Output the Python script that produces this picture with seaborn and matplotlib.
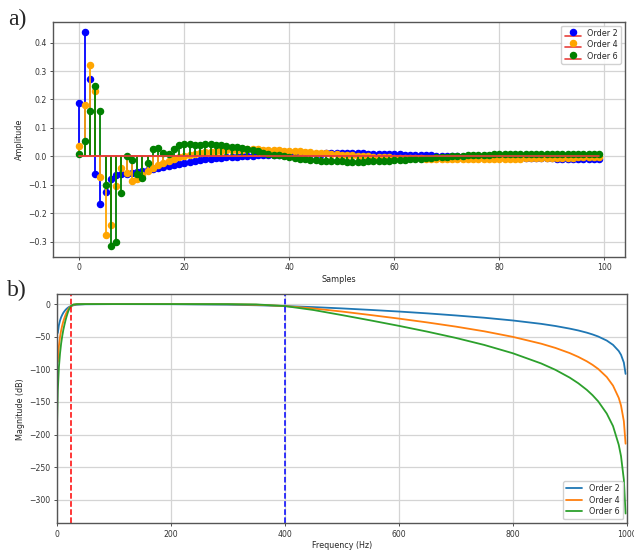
import numpy as np
import pandas as pd
import matplotlib
matplotlib.use("Agg")
import matplotlib.pyplot as plt
import seaborn as sns

# ---------------- data ----------------
samples = list(range(100))

order2_impulse = [
    0.188, 0.436, 0.272, -0.062, -0.167, -0.126, -0.081, -0.067, -0.064, -0.062,
    -0.059, -0.056, -0.053, -0.049, -0.045, -0.041, -0.037, -0.033, -0.030, -0.027,
    -0.024, -0.021, -0.017, -0.014, -0.011, -0.009, -0.007, -0.005, -0.003, -0.002,
    -0.001, 0.000, 0.001, 0.002, 0.003, 0.004, 0.005, 0.005, 0.006, 0.006,
    0.007, 0.007, 0.008, 0.008, 0.009, 0.009, 0.009, 0.010, 0.010, 0.010,
    0.010, 0.010, 0.010, 0.010, 0.010, 0.009, 0.009, 0.009, 0.008, 0.008,
    0.007, 0.007, 0.006, 0.006, 0.005, 0.004, 0.004, 0.003, 0.002, 0.002,
    0.001, 0.000, 0.000, -0.001, -0.001, -0.002, -0.002, -0.003, -0.003, -0.004,
    -0.004, -0.005, -0.005, -0.005, -0.006, -0.006, -0.006, -0.007, -0.007, -0.007,
    -0.007, -0.008, -0.008, -0.008, -0.008, -0.008, -0.008, -0.008, -0.008, -0.008,
]

order4_impulse = [
    0.036, 0.180, 0.321, 0.229, -0.073, -0.276, -0.241, -0.106, -0.041, -0.060,
    -0.088, -0.080, -0.066, -0.052, -0.040, -0.030, -0.022, -0.015, -0.009, -0.004,
    0.000, 0.004, 0.008, 0.011, 0.014, 0.016, 0.018, 0.020, 0.021, 0.022,
    0.023, 0.023, 0.024, 0.024, 0.024, 0.023, 0.023, 0.022, 0.021, 0.020,
    0.019, 0.018, 0.017, 0.015, 0.014, 0.013, 0.011, 0.010, 0.008, 0.007,
    0.006, 0.004, 0.003, 0.002, 0.001, 0.000, -0.001, -0.002, -0.003, -0.004,
    -0.005, -0.005, -0.006, -0.006, -0.007, -0.007, -0.008, -0.008, -0.008, -0.008,
    -0.009, -0.009, -0.009, -0.009, -0.009, -0.009, -0.009, -0.009, -0.009, -0.009,
    -0.009, -0.008, -0.008, -0.008, -0.008, -0.007, -0.007, -0.007, -0.006, -0.006,
    -0.006, -0.005, -0.005, -0.005, -0.005, -0.004, -0.004, -0.004, -0.004, -0.004,
]

order6_impulse = [
    0.007, 0.054, 0.159, 0.247, 0.159, -0.102, -0.317, -0.302, -0.129, 0.000,
    -0.012, -0.064, -0.078, -0.024, 0.024, 0.029, 0.011, 0.008, 0.027, 0.038,
    0.044, 0.043, 0.040, 0.038, 0.042, 0.044, 0.041, 0.039, 0.036, 0.034,
    0.031, 0.028, 0.025, 0.021, 0.017, 0.013, 0.009, 0.006, 0.003, 0.000,
    -0.003, -0.006, -0.008, -0.010, -0.012, -0.014, -0.015, -0.016, -0.017, -0.018,
    -0.018, -0.019, -0.019, -0.019, -0.019, -0.018, -0.018, -0.017, -0.016, -0.015,
    -0.014, -0.013, -0.012, -0.010, -0.009, -0.008, -0.006, -0.005, -0.004, -0.002,
    -0.001, 0.000, 0.001, 0.002, 0.003, 0.004, 0.005, 0.005, 0.006, 0.007,
    0.007, 0.007, 0.008, 0.008, 0.008, 0.008, 0.008, 0.008, 0.008, 0.008,
    0.008, 0.007, 0.007, 0.007, 0.007, 0.007, 0.007, 0.007, 0.007, 0.007,
]

freq_hz = [0, 1.95, 3.9, 5.86, 7.8, 9.77, 11.7, 13.7, 15.6, 17.6, 19.5, 21.5,
           25, 29.3, 35, 50, 100, 200, 300, 350, 400, 450, 500, 550, 600, 650,
           700, 750, 800, 850, 875, 900, 915, 930, 940, 950, 965, 976, 986,
           990, 995, 998]

order2_db = [None, -44.3, -32.2, -25.2, -20.2, -16.4, -13.3, -10.9, -8.8, -7.05,
             -5.7, -4.5, -3.0, -1.85, -1.0, -0.26, 0, -0.17, -0.94, -1.78,
             -3.0, -4.6, -6.6, -8.9, -11.4, -14.2, -17.4, -20.9, -25.1, -30.3,
             -33.6, -37.6, -40.4, -43.8, -46.5, -49.7, -55.9, -62.5, -71.9,
             -77.7, -89.7, -107]
order4_db = [None, -88.6, -64.5, -50.4, -40.4, -32.7, -26.3, -21.0, -16.4, -12.4,
             -9.1, -6.4, -3.0, -1.1, -0.3, -0.02, 0, 0, -0.25, -1.0,
             -3.0, -6.7, -11.4, -16.7, -22.2, -28.1, -34.5, -41.7, -50.2, -60.7,
             -67.2, -75.1, -80.9, -87.7, -93.1, -99.4, -111.8, -125.0, -143.7,
             -155.4, -179.5, -214]
order6_db = [-210, -132.9, -96.7, -75.7, -60.6, -49.0, -39.4, -31.5, -24.5, -18.4,
             -13.1, -8.5, -3.0, -0.6, -0.08, 0, 0, 0, -0.06, -0.53,
             -3.0, -9.0, -16.8, -24.9, -33.3, -42.2, -51.8, -62.6, -75.3, -91.0,
             -100.8, -112.7, -121.3, -131.5, -139.6, -149.1, -167.8, -187.0, -215.6,
             -233.0, -269.2, -321]

order_labels = ["Order 2", "Order 4", "Order 6"]
stem_colors = ["blue", "orange", "green"]
line_colors = ["#1f77b4", "#ff7f0e", "#2ca02c"]
low_cut = 25
high_cut = 400

# ---------------- style ----------------
sns.set_theme(style="whitegrid")
plt.rcParams.update({
    "font.family": ["DejaVu Sans"],
    "axes.edgecolor": "#555555",
    "axes.linewidth": 1.0,
    "grid.color": "#d4d4d4",
    "grid.linewidth": 0.9,
    "xtick.labelsize": 5.6,
    "ytick.labelsize": 5.6,
    "axes.labelsize": 5.8,
    "legend.fontsize": 5.8,
    "xtick.bottom": True,
    "ytick.left": True,
    "xtick.major.size": 2.5,
    "ytick.major.size": 2.5,
    "xtick.major.width": 0.6,
    "ytick.major.width": 0.6,
    "xtick.color": "#333333",
    "ytick.color": "#333333",
    "xtick.major.pad": 2,
    "ytick.major.pad": 2,
})

fig = plt.figure(figsize=(6.34, 5.53), dpi=100)
ax1 = fig.add_axes([0.084, 0.535, 0.902, 0.426])
ax2 = fig.add_axes([0.0894, 0.0537, 0.8991, 0.4147])

# ---------------- panel a: impulse responses ----------------
impulses = [order2_impulse, order4_impulse, order6_impulse]
for vals, lab, col in zip(impulses, order_labels, stem_colors):
    cont = ax1.stem(samples, vals, linefmt="-", markerfmt="o", basefmt="r-", label=lab)
    cont.markerline.set_color(col)
    cont.markerline.set_markersize(4.4)
    cont.stemlines.set_color(col)
    cont.stemlines.set_linewidth(1.3)
    cont.baseline.set_color("#e8413c")
    cont.baseline.set_linewidth(1.2)

ax1.set_xlim(-4.95, 103.95)
ax1.set_ylim(-0.355, 0.474)
ax1.set_xticks([0, 20, 40, 60, 80, 100])
ax1.set_yticks([-0.3, -0.2, -0.1, 0.0, 0.1, 0.2, 0.3, 0.4])
ax1.set_xlabel("Samples", labelpad=2)
ax1.set_ylabel("Amplitude", labelpad=3)
ax1.legend(loc="upper right", frameon=True, framealpha=0.9, edgecolor="#cccccc",
           borderpad=0.4, labelspacing=0.3, handlelength=2.0)

# ---------------- panel b: frequency responses ----------------
frames = []
for vals, lab in zip([order2_db, order4_db, order6_db], order_labels):
    frames.append(pd.DataFrame({"Frequency": freq_hz,
                                "Magnitude": pd.Series(vals, dtype="float"),
                                "Order": lab}))
df = pd.concat(frames, ignore_index=True).dropna()

sns.lineplot(data=df, x="Frequency", y="Magnitude", hue="Order",
             palette=line_colors, estimator=None, sort=False, linewidth=1.3, ax=ax2)
ax2.axvline(low_cut, color="red", linestyle="--", linewidth=1.1)
ax2.axvline(high_cut, color="blue", linestyle="--", linewidth=1.1)
ax2.set_xlim(0, 1000)
ax2.set_ylim(-336, 15.5)
ax2.set_xticks([0, 200, 400, 600, 800, 1000])
ax2.set_yticks([0, -50, -100, -150, -200, -250, -300])
ax2.set_xlabel("Frequency (Hz)", labelpad=2)
ax2.set_ylabel("Magnitude (dB)", labelpad=3)
ax2.legend(loc="lower right", title=None, frameon=True, framealpha=0.9,
           edgecolor="#cccccc", borderpad=0.4, labelspacing=0.3, handlelength=2.0)

for ax in (ax1, ax2):
    ax.tick_params(axis="both", which="both", direction="out")

fig.text(0.013, 0.964, "a)", family=["Liberation Serif", "DejaVu Serif"], fontsize=17, va="center")
fig.text(0.011, 0.474, "b)", family=["Liberation Serif", "DejaVu Serif"], fontsize=17, va="center")

fig.savefig("out.png", dpi=100)
